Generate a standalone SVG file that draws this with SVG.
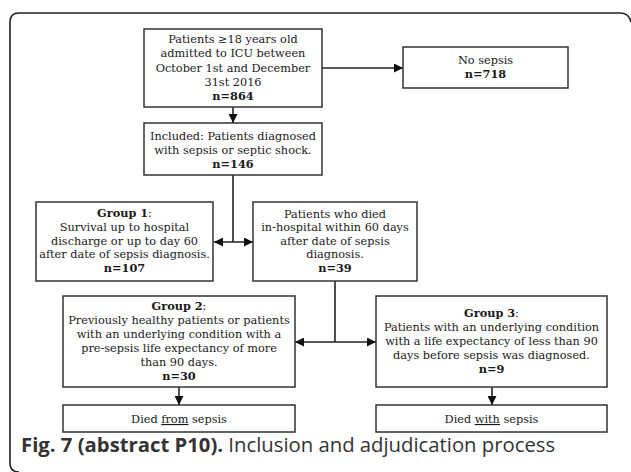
<svg xmlns="http://www.w3.org/2000/svg" width="631" height="472" viewBox="0 0 631 472">
<defs>
<style>
.bx{fill:#fff;stroke:#333;stroke-width:1.5}
.t{font-family:"DejaVu Serif","Liberation Serif",serif;font-size:11.3px;fill:#1a1a1a;text-anchor:middle}
.b{font-weight:bold}
.ln{fill:none;stroke:#222;stroke-width:1.6}
.cap{font-family:"Open Sans","Liberation Sans",sans-serif;font-size:20.3px;fill:#333}
</style>
<marker id="ah" viewBox="0 0 10 10" refX="10" refY="5" markerWidth="9" markerHeight="9" markerUnits="userSpaceOnUse" orient="auto-start-reverse">
<path d="M0,0 L10,5 L0,10 z" fill="#111"/>
</marker>
</defs>
<rect width="631" height="472" fill="#fff"/>
<path d="M19,472 Q10,472 10,463 L10,22 Q10,13 19,13 L620,13 Q629,13 631,22" fill="none" stroke="#222" stroke-width="1.6"/>

<g id="connectors">
<line class="ln" x1="322" y1="68" x2="403" y2="68" marker-end="url(#ah)"/>
<line class="ln" x1="233" y1="107" x2="233" y2="123" marker-end="url(#ah)"/>
<line class="ln" x1="233" y1="175" x2="233" y2="242"/>
<line class="ln" x1="214" y1="242" x2="253" y2="242" marker-start="url(#ah)" marker-end="url(#ah)"/>
<line class="ln" x1="335" y1="281" x2="335" y2="342"/>
<line class="ln" x1="295" y1="342" x2="376" y2="342" marker-start="url(#ah)" marker-end="url(#ah)"/>
<line class="ln" x1="179" y1="387" x2="179" y2="405" marker-end="url(#ah)"/>
<line class="ln" x1="492" y1="387" x2="492" y2="405" marker-end="url(#ah)"/>
</g>

<g id="patients">
<rect class="bx" x="144" y="29" width="178" height="78"/>
<text class="t" x="233" y="43">Patients ≥18 years old</text>
<text class="t" x="233" y="57">admitted to ICU between</text>
<text class="t" x="233" y="72">October 1st and December</text>
<text class="t" x="233" y="86">31st 2016</text>
<text class="t b" x="233" y="100">n=864</text>
</g>

<g id="nosepsis">
<rect class="bx" x="403" y="47" width="165" height="41"/>
<text class="t" x="485.5" y="64">No sepsis</text>
<text class="t b" x="485.5" y="78">n=718</text>
</g>

<g id="included">
<rect class="bx" x="144" y="123" width="178" height="52"/>
<text class="t" x="233" y="140">Included: Patients diagnosed</text>
<text class="t" x="233" y="154">with sepsis or septic shock.</text>
<text class="t b" x="233" y="168">n=146</text>
</g>

<g id="group1">
<rect class="bx" x="36" y="202" width="177" height="79"/>
<text class="t" x="124.5" y="217"><tspan class="b">Group 1</tspan>:</text>
<text class="t" x="124.5" y="231">Survival up to hospital</text>
<text class="t" x="124.5" y="245">discharge or up to day 60</text>
<text class="t" x="124.5" y="258">after date of sepsis diagnosis.</text>
<text class="t b" x="124.5" y="272">n=107</text>
</g>

<g id="died">
<rect class="bx" x="253" y="202" width="164" height="79"/>
<text class="t" x="335" y="218">Patients who died</text>
<text class="t" x="335" y="231">in-hospital within 60 days</text>
<text class="t" x="335" y="245">after date of sepsis</text>
<text class="t" x="335" y="258">diagnosis.</text>
<text class="t b" x="335" y="272">n=39</text>
</g>

<g id="group2">
<rect class="bx" x="63" y="296" width="232" height="91"/>
<text class="t" x="179" y="310"><tspan class="b">Group 2</tspan>:</text>
<text class="t" x="179" y="324">Previously healthy patients or patients</text>
<text class="t" x="179" y="338">with an underlying condition with a</text>
<text class="t" x="179" y="352">pre-sepsis life expectancy of more</text>
<text class="t" x="179" y="366">than 90 days.</text>
<text class="t b" x="179" y="380">n=30</text>
</g>

<g id="group3">
<rect class="bx" x="376" y="296" width="231" height="91"/>
<text class="t" x="491.5" y="317"><tspan class="b">Group 3</tspan>:</text>
<text class="t" x="491.5" y="331">Patients with an underlying condition</text>
<text class="t" x="491.5" y="345">with a life expectancy of less than 90</text>
<text class="t" x="491.5" y="359">days before sepsis was diagnosed.</text>
<text class="t b" x="491.5" y="373">n=9</text>
</g>

<g id="diedfrom">
<rect class="bx" x="63" y="405" width="232" height="27"/>
<text class="t" x="179" y="423">Died <tspan text-decoration="underline">from</tspan> sepsis</text>
</g>

<g id="diedwith">
<rect class="bx" x="376" y="405" width="231" height="27"/>
<text class="t" x="491.5" y="423">Died <tspan text-decoration="underline">with</tspan> sepsis</text>
</g>

<text class="cap" x="21" y="452"><tspan font-weight="bold">Fig. 7 (abstract P10).</tspan> Inclusion and adjudication process</text>
</svg>
